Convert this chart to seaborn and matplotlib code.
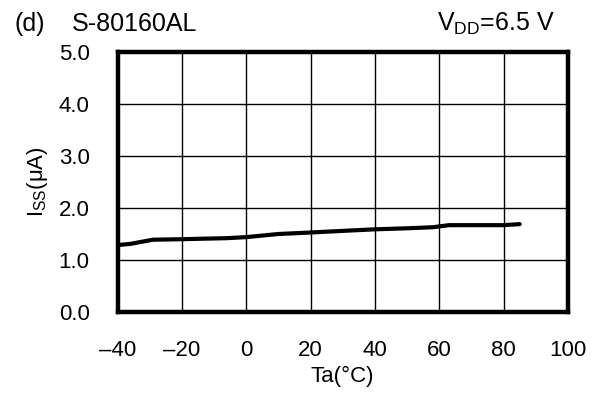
import matplotlib
matplotlib.use("Agg")
import matplotlib.pyplot as plt
import seaborn as sns
import pandas as pd

temps = [-39.5, -36, -29, -20, -6, 0, 10, 17, 30, 40, 50, 58, 63, 72, 80, 85]
iss = [1.29, 1.31, 1.39, 1.40, 1.42, 1.44, 1.50, 1.52, 1.56, 1.59, 1.61, 1.63, 1.67, 1.67, 1.67, 1.69]
xticks = [-40, -20, 0, 20, 40, 60, 80, 100]
xticklabels = ["\u201340", "\u201320", "0", "20", "40", "60", "80", "100"]
yticks = [0, 1, 2, 3, 4, 5]
yticklabels = ["0.0", "1.0", "2.0", "3.0", "4.0", "5.0"]

sns.set_theme(style="white")
plt.rcParams["font.family"] = ["Liberation Sans", "DejaVu Sans"]

df = pd.DataFrame({"Ta": temps, "Iss": iss})

fig = plt.figure(figsize=(5.98, 3.93), dpi=100)
ax = fig.add_axes([0.1965, 0.2061, 0.7533, 0.6616])
sns.lineplot(data=df, x="Ta", y="Iss", ax=ax, color="black", linewidth=3.0)

ax.set_xlim(-40, 100)
ax.set_ylim(0, 5)
ax.set_xticks(xticks)
ax.set_xticklabels(xticklabels)
ax.set_yticks(yticks)
ax.set_yticklabels(yticklabels)
ax.grid(True, color="black", linewidth=1.0)
for s in ax.spines.values():
    s.set_color("black")
    s.set_linewidth(3.2)
ax.tick_params(axis="both", length=0, labelsize=16, colors="black")
ax.tick_params(axis="y", pad=20)
ax.tick_params(axis="x", pad=20)
ax.set_xlabel("Ta(\u00b0C)", fontsize=16, color="black", labelpad=4)
ax.set_ylabel("I$_{\\mathregular{SS}}$(\u03bcA)", fontsize=16, color="black", labelpad=6)

fig.text(15 / 598, 0.939, "(d)", fontsize=18, color="black", va="center")
fig.text(72 / 598, 0.939, "S-80160AL", fontsize=18, color="black", va="center")
fig.text(555 / 598, 0.939, "V$_{\\mathregular{DD}}$=6.5 V", fontsize=18, color="black", va="center", ha="right")

fig.savefig("out.png", dpi=100)
